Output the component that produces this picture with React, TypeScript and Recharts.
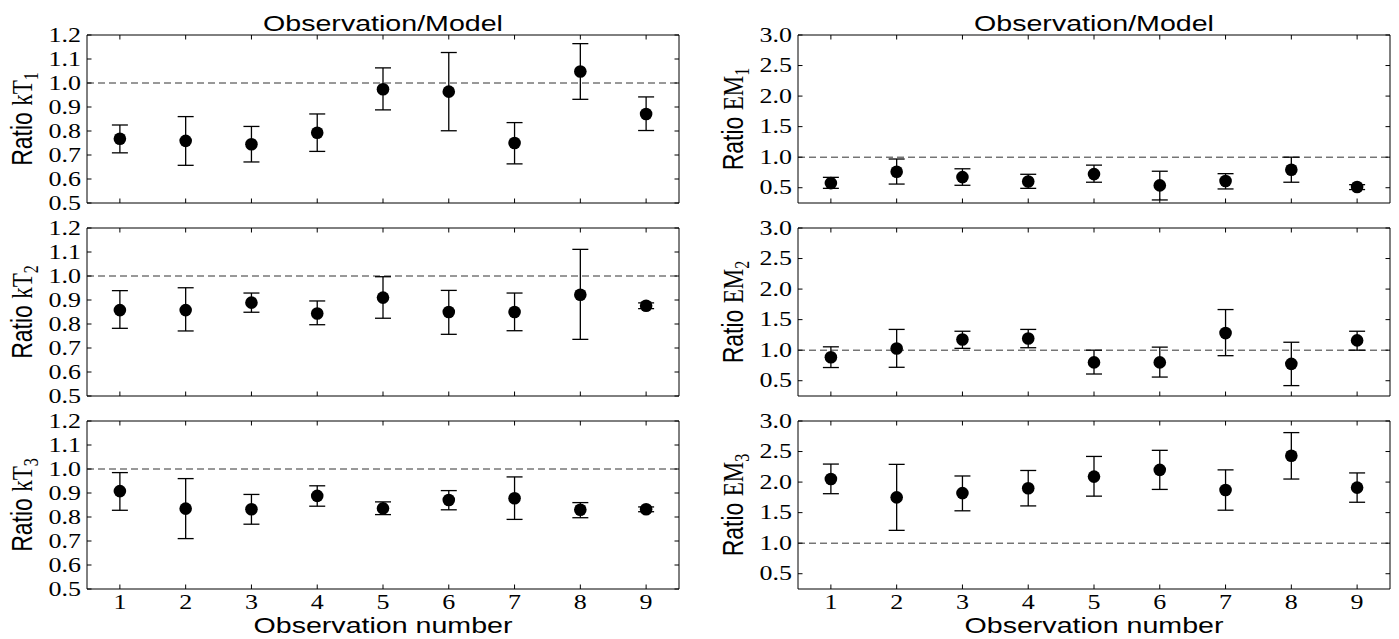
import React from 'react';
import { ScatterChart, Scatter, XAxis, YAxis, ErrorBar, ReferenceLine, ReferenceArea } from 'recharts';

// observation numbers shared by every panel
const OBS = [1, 2, 3, 4, 5, 6, 7, 8, 9];

// kT ratios (value, lower end, upper end of the error bar)
const KT1_VAL = [0.768, 0.759, 0.745, 0.793, 0.974, 0.964, 0.75, 1.048, 0.871];
const KT1_LO = [0.709, 0.657, 0.671, 0.715, 0.888, 0.801, 0.663, 0.932, 0.802];
const KT1_HI = [0.825, 0.86, 0.819, 0.871, 1.063, 1.127, 0.835, 1.164, 0.942];

const KT2_VAL = [0.858, 0.858, 0.889, 0.844, 0.91, 0.85, 0.85, 0.922, 0.876];
const KT2_LO = [0.782, 0.771, 0.849, 0.797, 0.824, 0.757, 0.772, 0.736, 0.864];
const KT2_HI = [0.939, 0.951, 0.929, 0.896, 0.997, 0.94, 0.929, 1.111, 0.888];

const KT3_VAL = [0.908, 0.835, 0.832, 0.888, 0.836, 0.871, 0.878, 0.83, 0.832];
const KT3_LO = [0.828, 0.71, 0.77, 0.845, 0.81, 0.83, 0.79, 0.797, 0.822];
const KT3_HI = [0.985, 0.96, 0.894, 0.93, 0.863, 0.91, 0.967, 0.86, 0.842];

// EM ratios
const EM1_VAL = [0.576, 0.761, 0.674, 0.603, 0.723, 0.538, 0.609, 0.794, 0.511];
const EM1_LO = [0.49, 0.56, 0.54, 0.49, 0.59, 0.3, 0.48, 0.59, 0.47];
const EM1_HI = [0.67, 0.97, 0.81, 0.72, 0.87, 0.77, 0.73, 1.0, 0.55];

const EM2_VAL = [0.885, 1.027, 1.175, 1.19, 0.8, 0.8, 1.28, 0.776, 1.16];
const EM2_LO = [0.716, 0.72, 1.03, 1.04, 0.61, 0.56, 0.91, 0.42, 1.0];
const EM2_HI = [1.055, 1.34, 1.31, 1.34, 1.0, 1.05, 1.665, 1.13, 1.31];

const EM3_VAL = [2.05, 1.75, 1.82, 1.9, 2.09, 2.2, 1.87, 2.43, 1.91];
const EM3_LO = [1.81, 1.21, 1.53, 1.61, 1.77, 1.88, 1.54, 2.05, 1.67];
const EM3_HI = [2.295, 2.29, 2.1, 2.19, 2.42, 2.52, 2.2, 2.81, 2.15];

const KT_TICKS = [0.5, 0.6, 0.7, 0.8, 0.9, 1.0, 1.1, 1.2];
const EM_TICKS = [0.5, 1.0, 1.5, 2.0, 2.5, 3.0];

const SERIF = '"Liberation Serif", "DejaVu Serif", serif';
const SANS = '"Liberation Sans", Arial, sans-serif';
const INK = '#000';

// plot-area geometry
const COLS = [
  { x: 87, w: 592 },
  { x: 798, w: 592 },
];
const ROWS = [35, 228, 421];
const PH = 168;
const TICK = 4.5;
const L = 87;

function buildRows(val: number[], lo: number[], hi: number[]) {
  return OBS.map((o, i) => ({ obs: o, value: val[i], err: [val[i] - lo[i], hi[i] - val[i]] }));
}

interface PanelProps {
  col: number;
  row: number;
  data: { obs: number; value: number; err: number[] }[];
  domain: [number, number];
  ticks: number[];
  showX: boolean;
}

function Panel({ col, row, data, domain, ticks, showX }: PanelProps) {
  const { x: px, w: pw } = COLS[col];
  const py = ROWS[row];
  const T = 12;
  const R = 4;
  const B = showX ? 50 : 12;

  const leftTick = (p: any) => {
    const { x, y, payload } = p;
    return (
      <g>
        <line x1={x} y1={y} x2={x + TICK} y2={y} stroke={INK} />
        <line x1={x + pw} y1={y} x2={x + pw - TICK} y2={y} stroke={INK} />
        <text
          transform={`translate(${x - 6},${y + 6.6}) scale(1.3,1)`}
          textAnchor="end"
          fontFamily={SERIF}
          fontSize={20}
          fill={INK}
        >
          {Number(payload.value).toFixed(1)}
        </text>
      </g>
    );
  };

  const bottomTick = (p: any) => {
    const { x, y, payload } = p;
    return (
      <g>
        <line x1={x} y1={y} x2={x} y2={y - TICK} stroke={INK} />
        <line x1={x} y1={y - PH} x2={x} y2={y - PH + TICK} stroke={INK} />
        {showX && (
          <text
            transform={`translate(${x},${y + 20}) scale(1.3,1)`}
            textAnchor="middle"
            fontFamily={SERIF}
            fontSize={20}
            fill={INK}
          >
            {payload.value}
          </text>
        )}
      </g>
    );
  };

  return (
    <div style={{ position: 'absolute', left: px - L, top: py - T }}>
      <ScatterChart width={L + pw + R} height={T + PH + B} margin={{ top: T, right: R, left: 0, bottom: 0 }}>
        <XAxis
          type="number"
          dataKey="obs"
          domain={[0.5, 9.5]}
          ticks={OBS}
          interval={0}
          height={B}
          axisLine={false}
          tickLine={false}
          tickSize={0}
          tickMargin={0}
          tick={bottomTick}
          allowDataOverflow
        />
        <YAxis
          type="number"
          dataKey="value"
          domain={domain}
          ticks={ticks}
          interval={0}
          width={L}
          axisLine={false}
          tickLine={false}
          tickSize={0}
          tickMargin={0}
          tick={leftTick}
          allowDataOverflow
        />
        <ReferenceArea x1={0.5} x2={9.5} y1={domain[0]} y2={domain[1]} fill="none" stroke={INK} strokeWidth={1} />
        <ReferenceLine y={1} stroke="#333" strokeWidth={1} strokeDasharray="7 4" />
        <Scatter
          data={data}
          fill={INK}
          isAnimationActive={false}
          shape={(s: any) => <circle cx={s.cx} cy={s.cy} r={6.3} fill={INK} />}
        >
          <ErrorBar dataKey="err" direction="y" width={8} stroke={INK} strokeWidth={1.3} />
        </Scatter>
      </ScatterChart>
    </div>
  );
}

function YLabel({ cx, cy, sym, idx }: { cx: number; cy: number; sym: string; idx: number }) {
  return (
    <text transform={`translate(${cx + 10.5},${cy}) scale(1.25,1) rotate(-90)`} textAnchor="middle" fontSize={23} fill={INK}>
      <tspan fontFamily={SANS}>Ratio </tspan>
      <tspan fontFamily={SERIF}>{sym}</tspan>
      <tspan fontFamily={SERIF} fontSize={16} dy={5}>
        {idx}
      </tspan>
    </text>
  );
}

export default function App() {
  const kt = [buildRows(KT1_VAL, KT1_LO, KT1_HI), buildRows(KT2_VAL, KT2_LO, KT2_HI), buildRows(KT3_VAL, KT3_LO, KT3_HI)];
  const em = [buildRows(EM1_VAL, EM1_LO, EM1_HI), buildRows(EM2_VAL, EM2_LO, EM2_HI), buildRows(EM3_VAL, EM3_LO, EM3_HI)];

  return (
    <div style={{ position: 'absolute', left: 0, top: 0, width: 1399, height: 639, background: '#fff', overflow: 'hidden' }}>
      {kt.map((d, i) => (
        <Panel key={`kt${i}`} col={0} row={i} data={d} domain={[0.5, 1.2]} ticks={KT_TICKS} showX={i === 2} />
      ))}
      {em.map((d, i) => (
        <Panel key={`em${i}`} col={1} row={i} data={d} domain={[0.25, 3.0]} ticks={EM_TICKS} showX={i === 2} />
      ))}

      <svg width={1399} height={639} style={{ position: 'absolute', left: 0, top: 0, pointerEvents: 'none' }}>
        {COLS.map((c, ci) => (
          <g key={ci}>
            <text
              transform={`translate(${c.x + c.w / 2},30.5) scale(1.3,1)`}
              textAnchor="middle"
              fontFamily={SANS}
              fontSize={22}
              fill={INK}
            >
              Observation/Model
            </text>
            <text
              transform={`translate(${c.x + c.w / 2},633) scale(1.3,1)`}
              textAnchor="middle"
              fontFamily={SANS}
              fontSize={22}
              fill={INK}
            >
              Observation number
            </text>
            {ROWS.map((ry, ri) => (
              <YLabel key={ri} cx={c.x - 66} cy={ry + PH / 2} sym={ci === 0 ? 'kT' : 'EM'} idx={ri + 1} />
            ))}
          </g>
        ))}
      </svg>
    </div>
  );
}
